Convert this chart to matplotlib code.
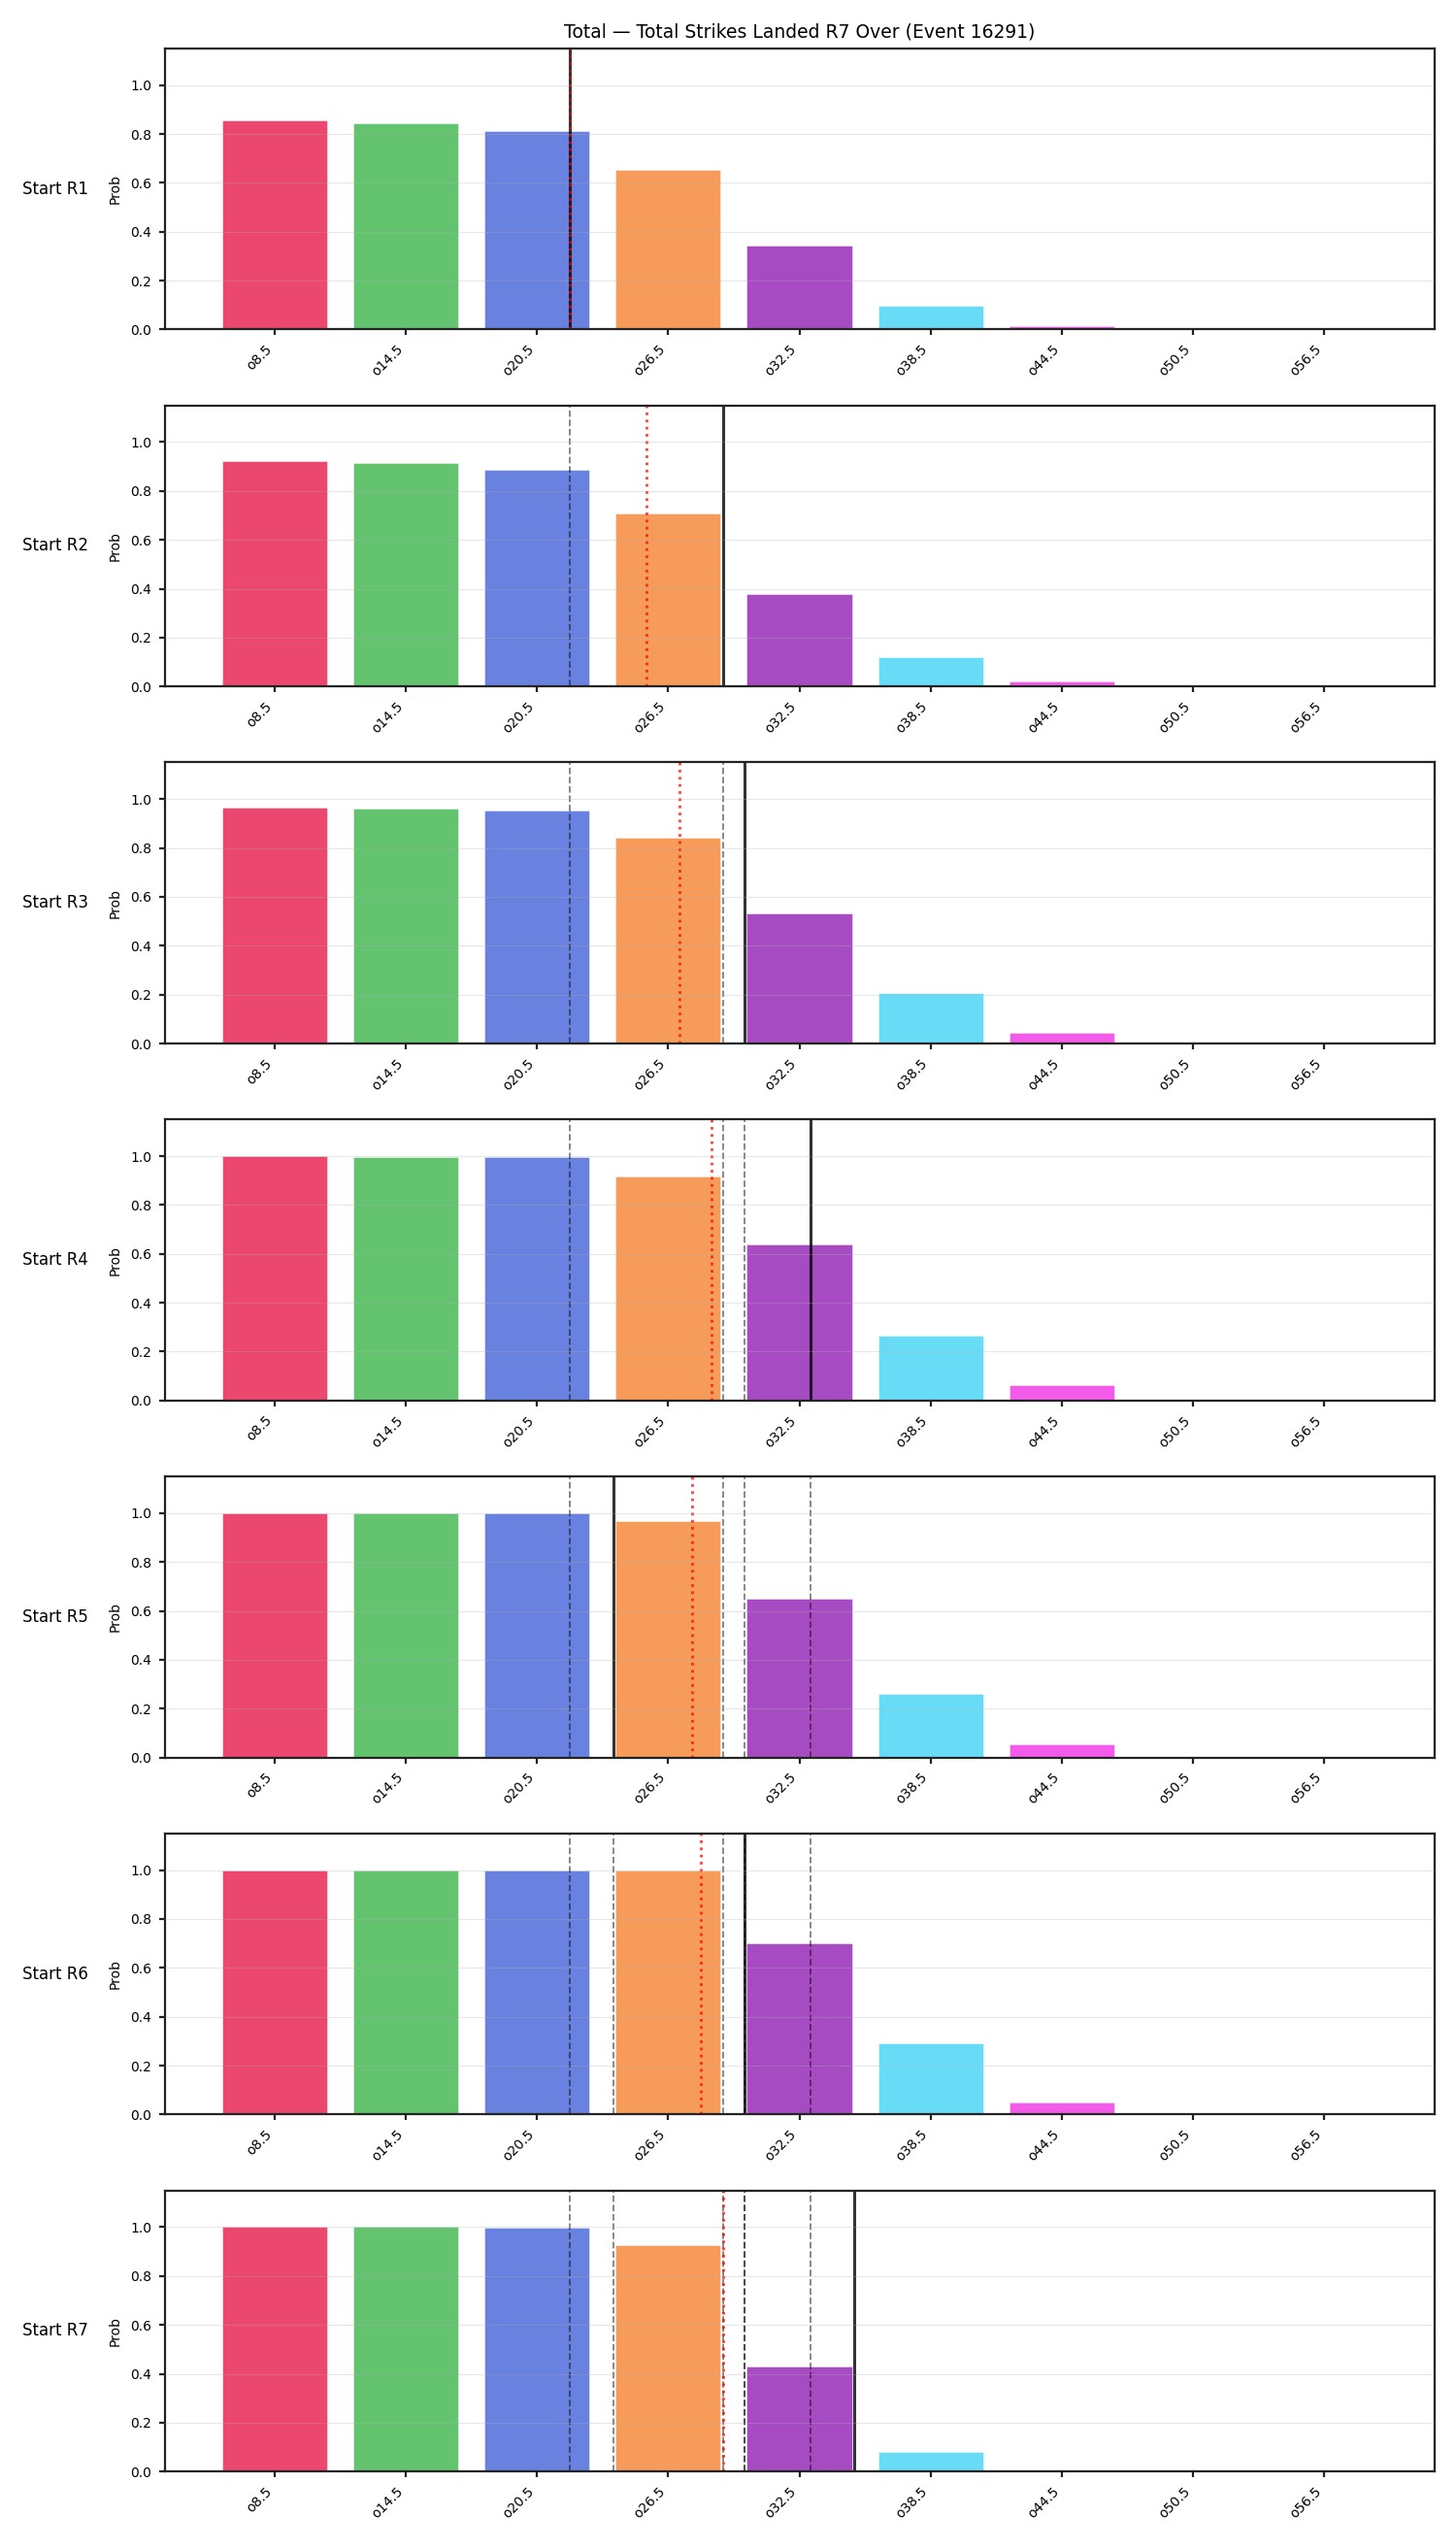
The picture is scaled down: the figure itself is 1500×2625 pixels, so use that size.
# Per-round probability bars for the R7 total strikes landed lines
import matplotlib.pyplot as plt
import numpy as np

# Line labels on the x axis
lines = ["o8.5", "o14.5", "o20.5", "o26.5", "o32.5", "o38.5", "o44.5", "o50.5", "o56.5"]
line_values = [8.5, 14.5, 20.5, 26.5, 32.5, 38.5, 44.5, 50.5, 56.5]

rounds = ["Start R1", "Start R2", "Start R3", "Start R4", "Start R5", "Start R6", "Start R7"]

# Over probability at each line, one list per starting round
prob_r1 = [0.856, 0.843, 0.811, 0.652, 0.343, 0.098, 0.012, 0.006, 0.004]
prob_r2 = [0.922, 0.915, 0.886, 0.707, 0.379, 0.122, 0.020, 0.005, 0.003]
prob_r3 = [0.967, 0.962, 0.952, 0.842, 0.533, 0.206, 0.042, 0.006, 0.003]
prob_r4 = [0.999, 0.998, 0.997, 0.918, 0.640, 0.266, 0.064, 0.005, 0.003]
prob_r5 = [1.000, 1.000, 0.999, 0.967, 0.651, 0.262, 0.054, 0.001, 0.000]
prob_r6 = [1.000, 1.000, 0.999, 0.998, 0.700, 0.292, 0.050, 0.002, 0.001]
prob_r7 = [1.000, 1.000, 0.999, 0.927, 0.430, 0.081, 0.006, 0.004, 0.002]
probs = [prob_r1, prob_r2, prob_r3, prob_r4, prob_r5, prob_r6, prob_r7]

# Projected total at the start of each round
projected = [22, 29, 30, 33, 24, 30, 35]

colors = ["#e6194b", "#3cb44b", "#4363d8", "#f58231", "#911eb4",
          "#42d4f4", "#f032e6", "#bfef45", "#fabed4"]

x = np.arange(len(lines))
proj_x = np.interp(projected, line_values, x)
running_mean = np.cumsum(proj_x) / np.arange(1, len(proj_x) + 1)

fig, axes = plt.subplots(len(rounds), 1, figsize=(15, 26.25), dpi=100)
fig.subplots_adjust(left=0.113, right=0.985, top=0.981, bottom=0.030, hspace=0.27)

for i, ax in enumerate(axes):
    ax.bar(x, probs[i], width=0.8, color=colors, alpha=0.8,
           edgecolor="white", linewidth=0.4)
    # earlier rounds' projections
    for j in range(i):
        ax.axvline(proj_x[j], color="black", alpha=0.5, linestyle="--", linewidth=1.3)
    ax.axvline(proj_x[i], color="black", alpha=0.8, linewidth=2.2)
    ax.axvline(running_mean[i], color="red", alpha=0.75, linestyle=":", linewidth=2)

    ax.set_ylim(0, 1.15)
    ax.set_yticks([0.0, 0.2, 0.4, 0.6, 0.8, 1.0])
    ax.set_xticks(x)
    ax.set_xticklabels(lines, rotation=45, ha="right")
    ax.set_ylabel("Prob", labelpad=6)
    ax.grid(axis="y", alpha=0.3)
    ax.set_axisbelow(False)
    for s in ax.spines.values():
        s.set_linewidth(1.6)
        s.set_color("#222222")
    ax.tick_params(width=1.6, length=4.5, pad=5, color="#222222")
    ax.text(-0.06, 0.5, rounds[i], transform=ax.transAxes, ha="right", va="center",
            fontsize=12)

axes[0].set_title("Total — Total Strikes Landed R7 Over (Event 16291)", fontsize=13.5, pad=8)

plt.savefig("out.png", dpi=100)
